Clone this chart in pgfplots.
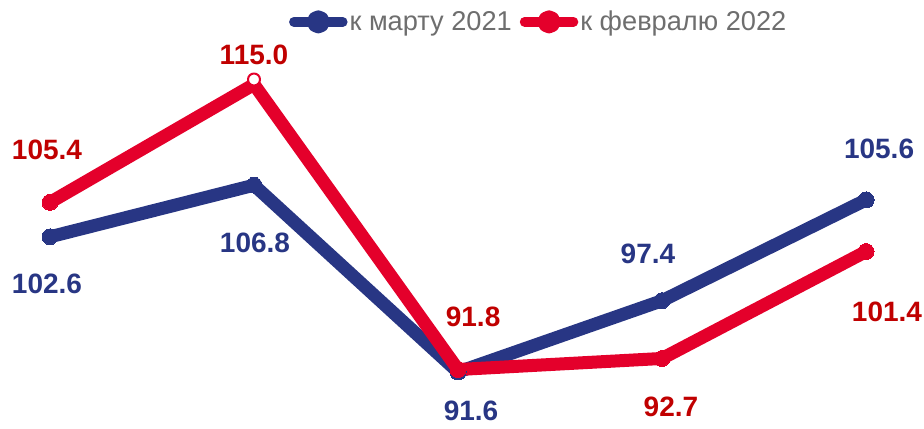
\documentclass[border=0pt]{standalone}
\usepackage{pgfplots}
\pgfplotsset{compat=1.18}
\usepackage{fontspec}
\setmainfont{Liberation Sans}
\definecolor{bl}{RGB}{40,54,132}
\definecolor{rd}{RGB}{228,0,43}
\definecolor{rdl}{RGB}{192,0,0}
\definecolor{gr}{RGB}{110,110,110}
\begin{document}
\begin{tikzpicture}
\begin{axis}[
  scale only axis, width=924bp, height=429bp,
  xmin=-0.2451, xmax=4.2843, ymin=86.96, ymax=121.87,
  hide axis,
  clip=false,
  legend columns=2,
  legend style={at={(rel axis cs:0.583,0.949)}, anchor=center, draw=none, fill=none,
    font=\fontsize{27.2bp}{31bp}\selectfont, text=gr,
    /tikz/every even column/.append style={column sep=6bp},
    inner sep=0pt, row sep=0pt},
  legend image code/.code={\draw[line width=9.5bp, line cap=round] (0bp,0bp) -- (49bp,0bp);
    \fill (24.5bp,0bp) circle (5bp);},
  every axis plot/.append style={line width=13bp, line cap=round, line join=round},
]
\addplot[bl, mark=*, mark size=8bp, mark options={line width=0pt}] coordinates {(0,102.6) (1,106.8) (2,91.6) (3,97.4) (4,105.6)};
\addlegendentry{к марту 2021}
\addplot[rd, line width=2bp, mark=*, mark size=6bp, mark options={fill=white, draw=rd, line width=2bp}, forget plot] coordinates {(1,115.4)};
\addplot[rd, mark=*, mark size=8bp, mark indices={1,3,4,5}, mark options={line width=0pt}] coordinates {(0,105.4) (1,115.0) (2,91.8) (3,92.7) (4,101.4)};
\addlegendentry{к февралю 2022}
\begin{scope}[font=\fontsize{28bp}{32bp}\selectfont\bfseries]
\node[text=rdl] at (axis cs:-0.0147,109.66) {105.4};
\node[text=bl] at (axis cs:-0.0147,98.76) {102.6};
\node[text=rdl] at (axis cs:1.0,117.39) {115.0};
\node[text=bl] at (axis cs:1.005,102.10) {106.8};
\node[text=rdl] at (axis cs:2.074,96.08) {91.8};
\node[text=bl] at (axis cs:2.064,88.43) {91.6};
\node[text=bl] at (axis cs:2.931,101.20) {97.4};
\node[text=rdl] at (axis cs:3.044,88.75) {92.7};
\node[text=bl] at (axis cs:4.064,109.74) {105.6};
\node[text=rdl] at (axis cs:4.103,96.48) {101.4};
\end{scope}
\end{axis}
\pgfresetboundingbox
\path[use as bounding box] (current axis.south west) rectangle (current axis.north east);
\end{tikzpicture}
\end{document}
